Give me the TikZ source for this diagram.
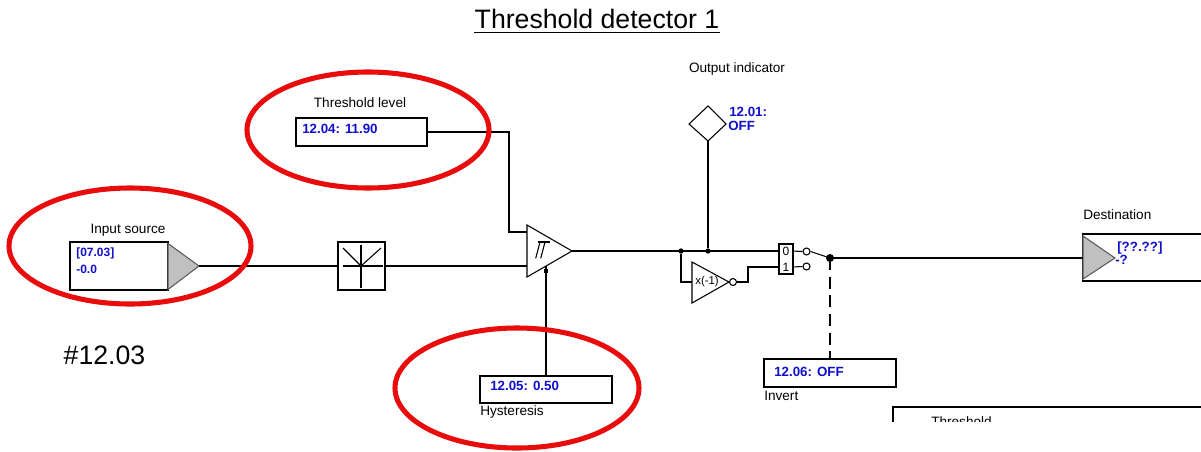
\documentclass[tikz,border=0pt]{standalone}
\usepackage{fontspec}
\setmainfont{Liberation Sans}
\definecolor{ellred}{RGB}{232,12,12}
\definecolor{valblue}{RGB}{15,15,205}
\definecolor{trigray}{RGB}{192,192,192}
\definecolor{tridraw}{RGB}{90,90,90}
\begin{document}
\begin{tikzpicture}[x=0.75pt,y=-0.75pt,
  wire/.style={line width=0.8pt, black},
  blk/.style={draw, line width=0.8pt, inner sep=0pt, fill=white},
  lbl/.style={font=\fontsize{10.2}{12}\selectfont, inner sep=0pt},
  val/.style={font=\fontsize{10}{12}\selectfont\bfseries, text=valblue, inner sep=0pt, anchor=west},
  ring/.style={draw=ellred, line width=3.8pt},
  jdot/.style={circle, fill=black, inner sep=0pt, minimum size=#1},
  port/.style={circle, draw, line width=0.8pt, fill=white, inner sep=0pt, minimum size=5.25pt},
  tri/.style={fill=trigray, draw=tridraw, line width=0.8pt},
]
\useasboundingbox (0,0) rectangle (1201,451);

% title
\node[font=\fontsize{20}{24}\selectfont, inner sep=0pt] (title) at (597,19) {Threshold detector 1};
\draw[line width=1.3pt] ([yshift=-3pt]title.base west) -- ([yshift=-3pt]title.base east);

\node[font=\fontsize{20}{24}\selectfont, inner sep=0pt] (tag) at (104.5,355) {\#12.03};

% input source
\node[lbl] (inlbl) at (128,230) {Input source};
\node[blk, minimum width=73.5pt, minimum height=36pt] (inbox) at (119,266) {};
\draw[tri] (168,243.5) -- (199,266) -- (168,289.5) -- cycle;
\coordinate (inapex) at (199,266);
\node[val, font=\fontsize{9}{11}\selectfont\bfseries] (inv1) at (76,253) {[07.03]};
\node[val, font=\fontsize{9}{11}\selectfont\bfseries] (inv2) at (76,269) {-0.0};

% filter block
\node[blk, minimum width=35.25pt, minimum height=36pt] (filt) at (361.5,266) {};
\draw[wire] (361,244.5) -- (361,287.5);
\draw[wire] (343,266) -- (383,266);
\draw[wire] (343,248) -- (361,266) -- (381,248);
\node[jdot=2.5pt] (fdot) at (361,266) {};

% comparator
\draw[wire] (527,225) -- (572,251) -- (527,277) -- cycle;
\coordinate (cmpin) at (527,266);
\coordinate (cmpth) at (527,232);
\coordinate (cmpout) at (572,251);
\coordinate (cmphy) at (546,266);
\draw[wire] (538,242) -- (550,242);
\draw[wire] (540,242) -- (535.7,258.3);
\draw[wire] (545,242) -- (540.7,258.3);
\node[rectangle, fill=black, inner sep=0pt, minimum size=3pt] (hydot) at (546,271) {};

% threshold level
\node[lbl] (thlbl) at (360,103) {Threshold level};
\node[blk, minimum width=98.25pt, minimum height=21pt] (thbox) at (361.5,132) {};
\node[val] (thval) at (302,129) {12.04: 11.90};
\coordinate (thk) at (509,132);

% hysteresis
\node[blk, minimum width=99pt, minimum height=20.25pt] (hybox) at (546,389.5) {};
\node[val] (hyval) at (490,386) {12.05: 0.50};
\node[lbl, anchor=west] (hylbl) at (480,412) {Hysteresis};

% wires input side
\draw[wire] (inapex) -- (filt.west);
\draw[wire] (filt.east) -- (cmpin);
\draw[wire] (thbox.east) -- (thk) |- (cmpth);
\draw[wire] (cmphy) -- (hybox.north);

% output indicator
\node[lbl] (oilbl) at (737,69) {Output indicator};
\draw[wire] (708,106) -- (726,124) -- (708,141) -- (689,124) -- cycle;
\coordinate (diabot) at (708,141);
\node[val] (oiv1) at (729,112) {12.01:};
\node[val] (oiv2) at (728,126) {OFF};

% junctions
\node[jdot=4pt] (j1) at (681,251) {};
\node[jdot=4pt] (j2) at (708,251) {};

% inverter
\draw[wire] (692,262) -- (729,282) -- (692,303) -- cycle;
\coordinate (invin) at (692,282);
\node[font=\fontsize{8.5}{10}\selectfont, inner sep=0pt] (invtxt) at (707,282) {x(-1)};
\node[port] (bub) at (733,282) {};
\coordinate (invk) at (748,282);

% switch
\node[blk, minimum width=10.5pt, minimum height=22.5pt] (swbox) at (786,259) {};
\node[font=\fontsize{9}{10}\selectfont, inner sep=0pt] (sw0) at (786,251) {0};
\node[font=\fontsize{9}{10}\selectfont, inner sep=0pt] (sw1) at (786,267) {1};
\coordinate (swin0) at (779,251);
\coordinate (swin1) at (779,267);
\coordinate (swout0) at (793,251);
\coordinate (swout1) at (793,267);
\node[port] (c0) at (806.5,251.5) {};
\node[port] (c1) at (806.5,266.5) {};
\node[jdot=6pt] (swdot) at (830,258) {};

% wires output side
\draw[wire] (cmpout) -- (swin0);
\draw[wire] (diabot) -- (j2);
\draw[wire] (j1) |- (invin);
\draw[wire] (bub.east) -- (invk) |- (swin1);
\draw[wire] (swout0) -- (c0.west);
\draw[wire] (swout1) -- (c1.west);
\draw[wire] (c0.east) -- (swdot.center);

% invert
\node[blk, minimum width=99pt, minimum height=21pt] (invbox) at (830,373) {};
\node[val] (invval) at (774,372) {12.06: OFF};
\node[lbl, anchor=west] (invlbl) at (764,396) {Invert};
\draw[wire, dash pattern=on 9pt off 5pt] (swdot.center) -- (invbox.north);

% destination
\node[lbl, anchor=west] (dstlbl) at (1083,215) {Destination};
\node[blk, minimum width=110pt, minimum height=35.25pt] (dstbox) at (1156,257.5) {};
\draw[tri] (1083,236) -- (1115,258) -- (1083,279) -- cycle;
\coordinate (dstin) at (1083,258);
\node[val] (dv1) at (1117,248) {[??.??]};
\node[val] (dv2) at (1115,260) {-?};
\draw[wire] (swdot.center) -- (dstin);

% cut-off box at bottom right
\begin{scope}
  \clip (880,400) rectangle (1201,421);
  \draw[wire] (893,440) |- (1230,407);
  \node[lbl, anchor=north west] (cut) at (931,416) {Threshold};
\end{scope}

% red ellipses
\draw[ring] (130,246) ellipse [x radius=90.75pt, y radius=43.5pt];
\draw[ring] (368,130) ellipse [x radius=90.75pt, y radius=43.5pt];
\draw[ring] (517,388) ellipse [x radius=91.5pt, y radius=45pt];
\end{tikzpicture}
\end{document}
